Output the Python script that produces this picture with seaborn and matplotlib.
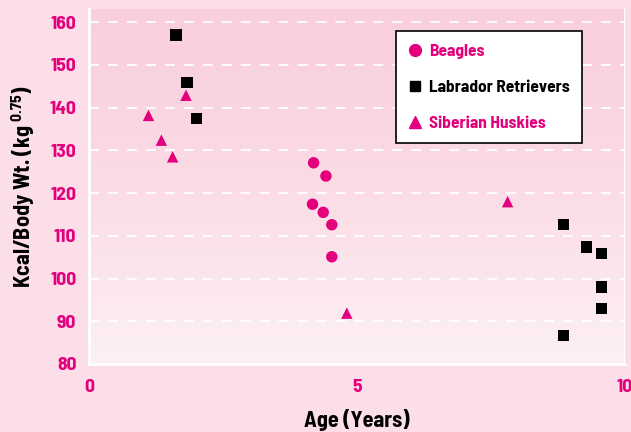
import numpy as np
import pandas as pd
import matplotlib.pyplot as plt
from matplotlib.lines import Line2D
import seaborn as sns

# values
beagle_age = [4.19, 4.42, 4.17, 4.37, 4.53, 4.53]
beagle_kcal = [127.1, 124.0, 117.4, 115.5, 112.6, 105.1]

lab_age = [1.62, 1.83, 2.01, 8.85, 9.28, 9.56, 9.56, 9.56, 8.85]
lab_kcal = [157.0, 145.9, 137.5, 112.7, 107.4, 105.9, 98.0, 93.0, 86.7]

husky_age = [1.11, 1.35, 1.56, 1.81, 7.81, 4.81]
husky_kcal = [138.2, 132.4, 128.5, 142.9, 118.0, 91.9]

breeds = ['Beagles', 'Labrador Retrievers', 'Siberian Huskies']
y_ticks = [80, 90, 100, 110, 120, 130, 140, 150, 160]
x_ticks = [0, 5, 10]

PINK = '#E4007C'
colors = {'Beagles': PINK, 'Labrador Retrievers': 'black', 'Siberian Huskies': PINK}
markers = {'Beagles': 'o', 'Labrador Retrievers': 's', 'Siberian Huskies': '^'}

df = pd.concat([
    pd.DataFrame({'Age': beagle_age, 'Kcal': beagle_kcal, 'Breed': breeds[0]}),
    pd.DataFrame({'Age': lab_age, 'Kcal': lab_kcal, 'Breed': breeds[1]}),
    pd.DataFrame({'Age': husky_age, 'Kcal': husky_kcal, 'Breed': breeds[2]}),
])

sns.set_style('white')
plt.rcParams['font.family'] = ['Barlow Semi Condensed', 'DejaVu Sans']
plt.rcParams['font.weight'] = 'bold'
plt.rcParams['mathtext.default'] = 'regular'

fig = plt.figure(figsize=(6.31, 4.32), dpi=100, facecolor='#FBDEE7')
ax = fig.add_axes([89 / 631, 1 - 364 / 432, 536 / 631, 355 / 432])

# gradient panel behind the points
grad = np.linspace(0, 1, 256).reshape(-1, 1)
top = np.array([0xF9, 0xCF, 0xDD]) / 255
bot = np.array([0xFD, 0xF0, 0xF3]) / 255
img = top + (bot - top) * grad[:, :, None] ** 1.3
ax.imshow(img, extent=[0, 9.97, 80, 163.1], aspect='auto', zorder=0)

for yv in y_ticks[1:]:
    ax.axhline(yv, color='white', lw=1.3, dashes=(5.5, 5), zorder=1)

sns.scatterplot(data=df, x='Age', y='Kcal', hue='Breed', style='Breed',
                palette=colors, markers=markers, s=68, linewidth=0,
                legend=False, ax=ax, zorder=3)

ax.set_xlim(0, 9.97)
ax.set_ylim(80, 163.1)
ax.set_xticks(x_ticks)
ax.set_yticks(y_ticks)
ax.tick_params(length=0, labelcolor=PINK, labelsize=14)
ax.tick_params(axis='x', pad=11)
ax.tick_params(axis='y', pad=9)
for lab in ax.get_xticklabels() + ax.get_yticklabels():
    lab.set_fontweight('bold')

for side in ['top', 'right']:
    ax.spines[side].set_visible(False)
for side in ['left', 'bottom']:
    ax.spines[side].set_color('white')
    ax.spines[side].set_linewidth(2)

ax.set_xlabel('Age (Years)', fontsize=16, fontweight='bold', labelpad=9, color='black')
ax.set_ylabel('Kcal/Body Wt. (kg $^{0.75}$)', fontsize=16, fontweight='bold',
              labelpad=9, color='black')

handles = [Line2D([], [], ls='none', marker=markers[b], color=colors[b],
                  markersize=8.5 if b != 'Labrador Retrievers' else 7.5) for b in breeds]
leg = ax.legend(handles, breeds, loc='upper left', bbox_to_anchor=(0.573, 0.937),
                borderaxespad=0, frameon=True, fancybox=False, framealpha=1,
                edgecolor='black', handlelength=0.8, handletextpad=0.4,
                labelspacing=1.2, borderpad=0.7, prop={'size': 12.5, 'weight': 'bold'})
leg.get_frame().set_linewidth(1.2)
for txt, b in zip(leg.get_texts(), breeds):
    txt.set_color(colors[b])

fig.savefig('out.png', dpi=100, facecolor=fig.get_facecolor())
